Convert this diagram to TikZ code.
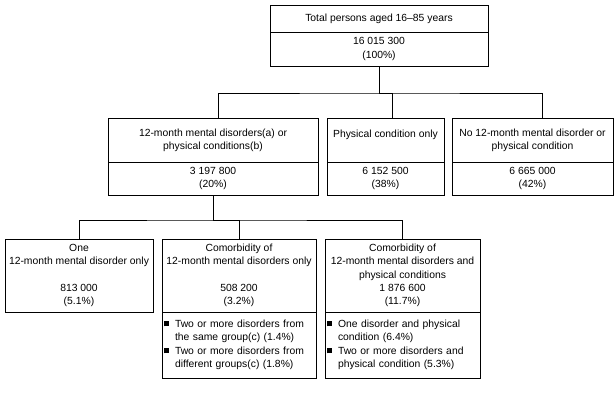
\documentclass[tikz,border=0pt]{standalone}
\usepackage{fontspec}
\setmainfont{Liberation Sans}
\usepackage{tikz}
\usetikzlibrary{positioning}
\newcommand{\sqb}{\rule[0.2ex]{5bp}{5bp}\hspace{6bp}}

\begin{document}
\begin{tikzpicture}[x=1bp, y=-1bp, line width=0.8bp,
    box/.style={draw, rectangle, inner sep=2bp, outer sep=0pt, align=center, anchor=north, font=\fontsize{10.4}{13.4}\selectfont},
    list/.style={box, align=left, font=\fontsize{10.4}{13.5}\selectfont}]
    \useasboundingbox (0,0) rectangle (616,395);

    % Total persons
    \node[box, minimum width=218bp, minimum height=27bp] (tot) at (379,5) {Total persons aged 16--85 years};
    \node[box, minimum width=218bp, minimum height=34bp, below=0pt of tot] (totn) {16 015 300\\(100\%)};

    % Second level
    \node[box, minimum width=210bp, minimum height=44bp] (ment) at (213,118) {12-month mental disorders(a) or\\physical conditions(b)};
    \node[box, minimum width=210bp, minimum height=33bp, below=0pt of ment] (mentn) {3 197 800\\(20\%)};
    \node[box, minimum width=117bp, minimum height=44bp] (phys) at (385.5,118) {Physical condition only\\\mbox{}};
    \node[box, minimum width=117bp, minimum height=33bp, below=0pt of phys] (physn) {6 152 500\\(38\%)};
    \node[box, minimum width=161bp, minimum height=44bp] (none) at (532.5,118) {No 12-month mental disorder or\\physical condition};
    \node[box, minimum width=161bp, minimum height=33bp, below=0pt of none] (nonen) {6 665 000\\(42\%)};

    % Third level
    \node[box, minimum width=148bp, minimum height=73bp] (one) at (79,239) {One\\12-month mental disorder only\\~\\813 000\\(5.1\%)};
    \node[box, minimum width=154bp, minimum height=73bp] (comm) at (239,239) {Comorbidity of\\12-month mental disorders only\\~\\508 200\\(3.2\%)};
    \node[list, text width=150bp, minimum height=66bp, below=0pt of comm] (comml) {\sqb Two or more disorders from\\\hspace*{11bp}the same group(c) (1.4\%)\\\sqb Two or more disorders from\\\hspace*{11bp}different groups(c) (1.8\%)};
    \node[box, minimum width=155bp, minimum height=73bp] (comb) at (402.5,239) {Comorbidity of\\12-month mental disorders and\\physical conditions\\1 876 600\\(11.7\%)};
    \node[list, text width=151bp, minimum height=66bp, below=0pt of comb] (combl) {\sqb One disorder and physical\\\hspace*{11bp}condition (6.4\%)\\\sqb Two or more disorders and\\\hspace*{11bp}physical condition (5.3\%)};

    % Tree lines
    \draw (totn.south) -- ++(0,27) coordinate (busa);
    \draw ([xshift=5bp]ment.north) |- (busa) -| ([xshift=9.5bp]none.north);
    \draw (busa) -| ([xshift=6.5bp]phys.north);
    \draw (mentn.south) -- ++(0,25) coordinate (busb);
    \draw (one.north) |- (busb) -| (comb.north);
    \draw (busb) -| (comm.north);
\end{tikzpicture}
\end{document}
